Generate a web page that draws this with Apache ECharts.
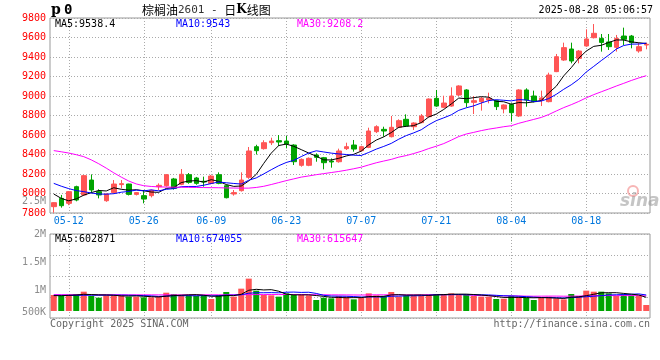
<!DOCTYPE html>
<html><head><meta charset="utf-8">
<script src="https://cdn.jsdelivr.net/npm/echarts@6/dist/echarts.min.js"></script>
<style>html,body{margin:0;padding:0;background:#fff}#c{width:660px;height:360px}</style>
</head><body><div id="c"></div>
<script>
const dates = ['05-08','05-09','05-12','05-13','05-14','05-15','05-16','05-19','05-20','05-21','05-22','05-23','05-26','05-27','05-28','05-29','05-30','06-03','06-04','06-05','06-06','06-09','06-10','06-11','06-12','06-13','06-16','06-17','06-18','06-19','06-20','06-23','06-24','06-25','06-26','06-27','06-30','07-01','07-02','07-03','07-04','07-07','07-08','07-09','07-10','07-11','07-14','07-15','07-16','07-17','07-18','07-21','07-22','07-23','07-24','07-25','07-28','07-29','07-30','07-31','08-01','08-04','08-05','08-06','08-07','08-08','08-11','08-12','08-13','08-14','08-15','08-18','08-19','08-20','08-21','08-22','08-25','08-26','08-27','08-28'];
const xLabelDates = ['05-12','05-26','06-09','06-23','07-07','07-21','08-04','08-18'];
const opens = [7865,7950,7899,8070,7985,8138,8019,7926,8009,8091,8097,7991,7978,7978,8070,8080,8149,8094,8193,8159,8125,8104,8193,8080,7995,8029,8166,8480,8460,8521,8542,8538,8497,8289,8289,8395,8367,8333,8326,8460,8497,8439,8473,8634,8658,8583,8679,8761,8685,8727,8788,8976,8884,8897,9010,9062,8935,8942,8959,8952,8867,8914,8795,9062,9000,8959,8942,9250,9369,9482,9386,9513,9598,9591,9554,9499,9615,9615,9462,9523];
const closes = [7906,7875,8019,7933,8183,8036,7985,7995,8097,8101,7991,8009,7943,8033,8084,8193,8053,8197,8114,8104,8118,8179,8104,7957,8009,8138,8436,8439,8521,8538,8528,8508,8326,8350,8361,8371,8316,8323,8436,8480,8456,8480,8641,8685,8641,8679,8747,8692,8723,8795,8969,8897,8928,9000,9103,8932,8952,8976,8976,8891,8908,8829,9062,8959,8942,8980,9215,9403,9496,9359,9461,9585,9643,9550,9506,9591,9581,9547,9506,9530];
const lows = [7803,7855,7880,7920,7975,8002,7950,7915,8000,8053,7980,7980,7899,7960,8036,8070,8040,8085,8100,8090,8070,8095,8095,7950,7978,8020,8150,8400,8450,8497,8487,8463,8292,8275,8280,8326,8248,8265,8316,8446,8429,8430,8465,8620,8583,8575,8670,8685,8651,8720,8780,8890,8875,8890,9000,8884,8815,8850,8925,8856,8822,8737,8785,8890,8935,8897,8935,9245,9360,9335,9335,9505,9590,9455,9472,9455,9523,9489,9444,9479];
const highs = [7910,7985,8025,8080,8190,8196,8043,8000,8138,8138,8100,8015,8036,8040,8104,8200,8160,8251,8210,8170,8173,8190,8217,8090,8036,8217,8477,8500,8546,8572,8600,8590,8505,8360,8370,8412,8375,8360,8460,8521,8549,8490,8675,8700,8685,8795,8761,8812,8730,8815,8975,9062,9003,9089,9110,9070,9000,8990,9034,8960,8915,8925,9070,9079,9055,9055,9239,9431,9547,9547,9472,9684,9738,9636,9636,9626,9701,9626,9547,9547];
const ma5 = [7995,7950,7925,7945,7983,8009,8031,8026,8059,8043,8034,8039,8028,8015,8012,8052,8061,8112,8128,8132,8117,8142,8124,8092,8073,8077,8129,8196,8309,8414,8492,8507,8484,8450,8415,8383,8345,8344,8361,8385,8402,8435,8499,8548,8581,8625,8679,8689,8696,8727,8785,8815,8862,8918,8979,8972,8983,8993,8988,8945,8941,8916,8933,8930,8940,8954,9032,9100,9207,9291,9387,9461,9509,9520,9549,9575,9574,9555,9546,9538.4];
const ma10 = [8104,8075,8050,8030,8019,8005,7995,7993,7998,8013,8021,8035,8027,8037,8027,8043,8050,8070,8072,8072,8085,8102,8118,8110,8103,8097,8136,8160,8201,8244,8285,8318,8340,8379,8415,8438,8426,8414,8406,8400,8393,8390,8421,8455,8483,8514,8557,8594,8622,8654,8705,8747,8776,8807,8853,8879,8899,8928,8953,8962,8956,8950,8963,8959,8943,8948,8974,9017,9069,9115,9171,9246,9304,9363,9420,9481,9518,9532,9533,9543];
const ma30 = [8440,8428,8415,8398,8378,8345,8305,8260,8212,8168,8128,8098,8080,8072,8068,8066,8065,8064,8063,8062,8061,8060,8059,8057,8056,8055,8055,8062,8074,8092,8112,8132,8150,8168,8180,8193,8204,8215,8226,8239,8254,8270,8293,8315,8333,8350,8373,8389,8410,8433,8461,8485,8512,8547,8584,8610,8627,8645,8660,8672,8685,8695,8720,8740,8760,8780,8810,8846,8881,8911,8944,8981,9014,9043,9072,9102,9130,9159,9185,9208.2];
// volume in thousands
const volume = [911,893,911,929,970,893,863,905,905,905,881,881,869,869,881,952,929,905,905,893,905,839,905,964,881,1024,1203,988,911,905,881,940,929,911,905,821,863,851,893,881,833,863,940,905,893,964,881,905,905,905,923,929,929,940,911,923,893,881,881,839,845,893,881,863,821,863,881,851,833,929,893,988,970,970,940,893,923,905,893,732];
const volMa5 = [900,898,905,910,923,919,913,912,907,894,892,895,888,881,876,890,900,907,914,917,907,889,889,901,899,923,995,1012,1001,1006,978,925,913,913,913,901,886,870,867,862,864,864,882,884,887,913,917,910,910,912,904,913,918,925,926,926,919,910,898,883,868,868,868,864,861,864,862,856,850,871,877,899,923,950,952,952,939,926,911,869];
const volMa10 = [905,904,904,905,906,907,907,908,908,909,906,904,900,894,885,891,898,898,898,897,899,895,898,908,908,915,942,951,951,953,950,960,963,957,960,939,905,892,890,888,883,875,876,876,874,889,890,896,897,899,908,915,914,917,919,915,916,914,912,905,897,894,889,881,872,866,865,862,857,866,871,880,889,900,912,915,919,924,930,911];
const volMa30 = [917,917,916,916,916,915,915,915,915,914,914,914,914,913,913,913,913,913,914,914,914,914,914,915,915,916,917,918,918,919,918,920,920,920,918,915,915,913,913,912,911,910,912,914,914,914,913,913,913,913,914,917,918,917,918,914,904,900,899,897,896,895,893,891,889,890,891,891,889,890,892,896,897,899,901,899,900,900,900,894];
const priceTicks = ['7800','8000','8200','8400','8600','8800','9000','9200','9400','9600','9800'];
const volTicks = ['500K','1M','1.5M','2M'];
const volExtraTick = '2.5M';
const priceLegend = ['MA5:9538.4','MA10:9543','MA30:9208.2'];
const volLegend = ['MA5:602871','MA10:674055','MA30:615647'];
const titleText = ['棕榈油','2601 - ','日','K','线图'];
const timeText = '2025-08-28 05:06:57';
const footLeft = 'Copyright 2025 SINA.COM';
const footRight = 'http://finance.sina.com.cn';

const RED = '#ff5555', GREEN = '#00a400';
const MONO = 'DejaVu Sans Mono';
const chart = echarts.init(document.getElementById('c'), null, {width:660, height:360});
const isLabelDate = (i, v) => xLabelDates.indexOf(v) >= 0;
const dotted = {show:true, lineStyle:{color:'#aaaaaa', width:1, type:[1,2]}};
const dottedX = {show:true, interval:isLabelDate, alignWithLabel:true, lineStyle:{color:'#aaaaaa', width:1, type:[1,2]}};
const candleData = dates.map((d,i)=>[opens[i], closes[i], lows[i], highs[i]]);
const volData = volume.map((v,i)=>({value:v, itemStyle:{color: closes[i] >= opens[i] ? RED : GREEN}}));
const lineS = (data, color, xi, yi) => ({type:'line', data, xAxisIndex:xi, yAxisIndex:yi, symbol:'none', silent:true, z:5, lineStyle:{color, width:1}});
const legendColors = ['#000000','#0000ff','#ff00ff'];
const legendX = [55,176,297];
const graphics = [];
priceLegend.forEach((t,i)=>graphics.push({type:'text', x:legendX[i], y:24, z:20, style:{text:t, fill:legendColors[i], font:'10px "'+MONO+'"', verticalAlign:'middle'}}));
volLegend.forEach((t,i)=>graphics.push({type:'text', x:legendX[i], y:239, z:20, style:{text:t, fill:legendColors[i], font:'10px "'+MONO+'"', verticalAlign:'middle'}}));
graphics.push({type:'text', x:51, y:10, style:{text:'{p|p} {z|0}', verticalAlign:'middle', rich:{p:{fontFamily:'DejaVu Serif', fontWeight:'bold', fontSize:14, fill:'#000'}, z:{fontFamily:MONO, fontWeight:'bold', fontSize:14, fill:'#000'}}}});
graphics.push({type:'text', x:142, y:10, style:{text:'{c|'+titleText[0]+'}{d|'+titleText[1]+'}{c|'+titleText[2]+'}{k|'+titleText[3]+'}{c|'+titleText[4]+'}', verticalAlign:'middle', rich:{c:{fontFamily:'Noto Sans CJK SC', fontSize:12, fill:'#000'}, d:{fontFamily:MONO, fontSize:11, fill:'#333'}, k:{fontFamily:'DejaVu Serif', fontWeight:'bold', fontSize:12, fill:'#000'}}}});
graphics.push({type:'text', x:653, y:10, style:{text:timeText, fill:'#000', font:'10px "'+MONO+'"', align:'right', verticalAlign:'middle'}});
graphics.push({type:'text', x:46, y:201, style:{text:volExtraTick, fill:'#8c8c8c', font:'10px "'+MONO+'"', align:'right', verticalAlign:'middle'}});
graphics.push({type:'text', x:50, y:324, style:{text:footLeft, fill:'#666', font:'10px "'+MONO+'"', verticalAlign:'middle'}});
graphics.push({type:'text', x:650, y:324, style:{text:footRight, fill:'#666', font:'10px "'+MONO+'"', align:'right', verticalAlign:'middle'}});
graphics.push({type:'circle', shape:{cx:633, cy:191, r:5}, z:1, style:{fill:'none', stroke:'rgba(240,120,120,0.55)', lineWidth:2}});
graphics.push({type:'text', x:620, y:202, z:1, style:{text:'sina', fill:'rgba(150,150,150,0.55)', font:'italic bold 17px "DejaVu Sans"', verticalAlign:'middle'}});

chart.setOption({
  animation:false,
  backgroundColor:'#fff',
  grid:[
    {left:50, top:18, width:600, height:195, show:true, borderColor:'#999', borderWidth:1},
    {left:50, top:234, width:600, height:84, show:true, borderColor:'#999', borderWidth:1},
    {left:50, top:234, width:600, height:77, show:false}
  ],
  xAxis:[
    {type:'category', gridIndex:0, data:dates, boundaryGap:true, axisLine:{show:false}, axisTick:{show:false},
     axisLabel:{interval:isLabelDate, color:'#0077dd', fontFamily:MONO, fontSize:10, margin:3}, splitLine:dottedX},
    {type:'category', gridIndex:1, data:dates, boundaryGap:true, axisLine:{show:false}, axisTick:{show:false}, axisLabel:{show:false}, splitLine:dottedX},
    {type:'category', gridIndex:2, data:dates, boundaryGap:true, show:false}
  ],
  yAxis:[
    {type:'value', gridIndex:0, min:7800, max:9800, interval:200, axisLine:{show:false}, axisTick:{show:false},
     axisLabel:{color:'#ff0000', fontFamily:MONO, fontSize:10, margin:4, formatter:v=>priceTicks[Math.round((v-7800)/200)]}, splitLine:dotted},
    {type:'value', gridIndex:1, min:500, max:2000, interval:500, position:'left', axisLine:{show:false}, axisTick:{show:false}, splitLine:{show:false},
     axisLabel:{color:'#8c8c8c', fontFamily:MONO, fontSize:10, margin:4,
       formatter:v=>{const t = volTicks[Math.round((v-500)/500)]; return v===500 ? '{lo|'+t+'}' : t;},
       rich:{lo:{color:'#8c8c8c', fontFamily:MONO, fontSize:10, padding:[0,0,11,0]}}}},
    {type:'value', gridIndex:1, min:0, max:4, interval:1, position:'left', axisLine:{show:false}, axisTick:{show:false}, axisLabel:{show:false}, splitLine:dotted},
    {type:'value', gridIndex:2, min:625, max:2000, show:false}
  ],
  series:[
    {type:'candlestick', xAxisIndex:0, yAxisIndex:0, data:candleData, barWidth:5, silent:true,
     itemStyle:{color:RED, color0:GREEN, borderColor:RED, borderColor0:GREEN, borderWidth:1}},
    lineS(ma5,'#000000',0,0), lineS(ma10,'#0000ff',0,0), lineS(ma30,'#ff00ff',0,0),
    {type:'bar', xAxisIndex:2, yAxisIndex:3, data:volData, barWidth:6, silent:true},
    lineS(volMa30,'#ff00ff',2,3), lineS(volMa10,'#0000ff',2,3), lineS(volMa5,'#000000',2,3)
  ],
  graphic:graphics
});
</script></body></html>
